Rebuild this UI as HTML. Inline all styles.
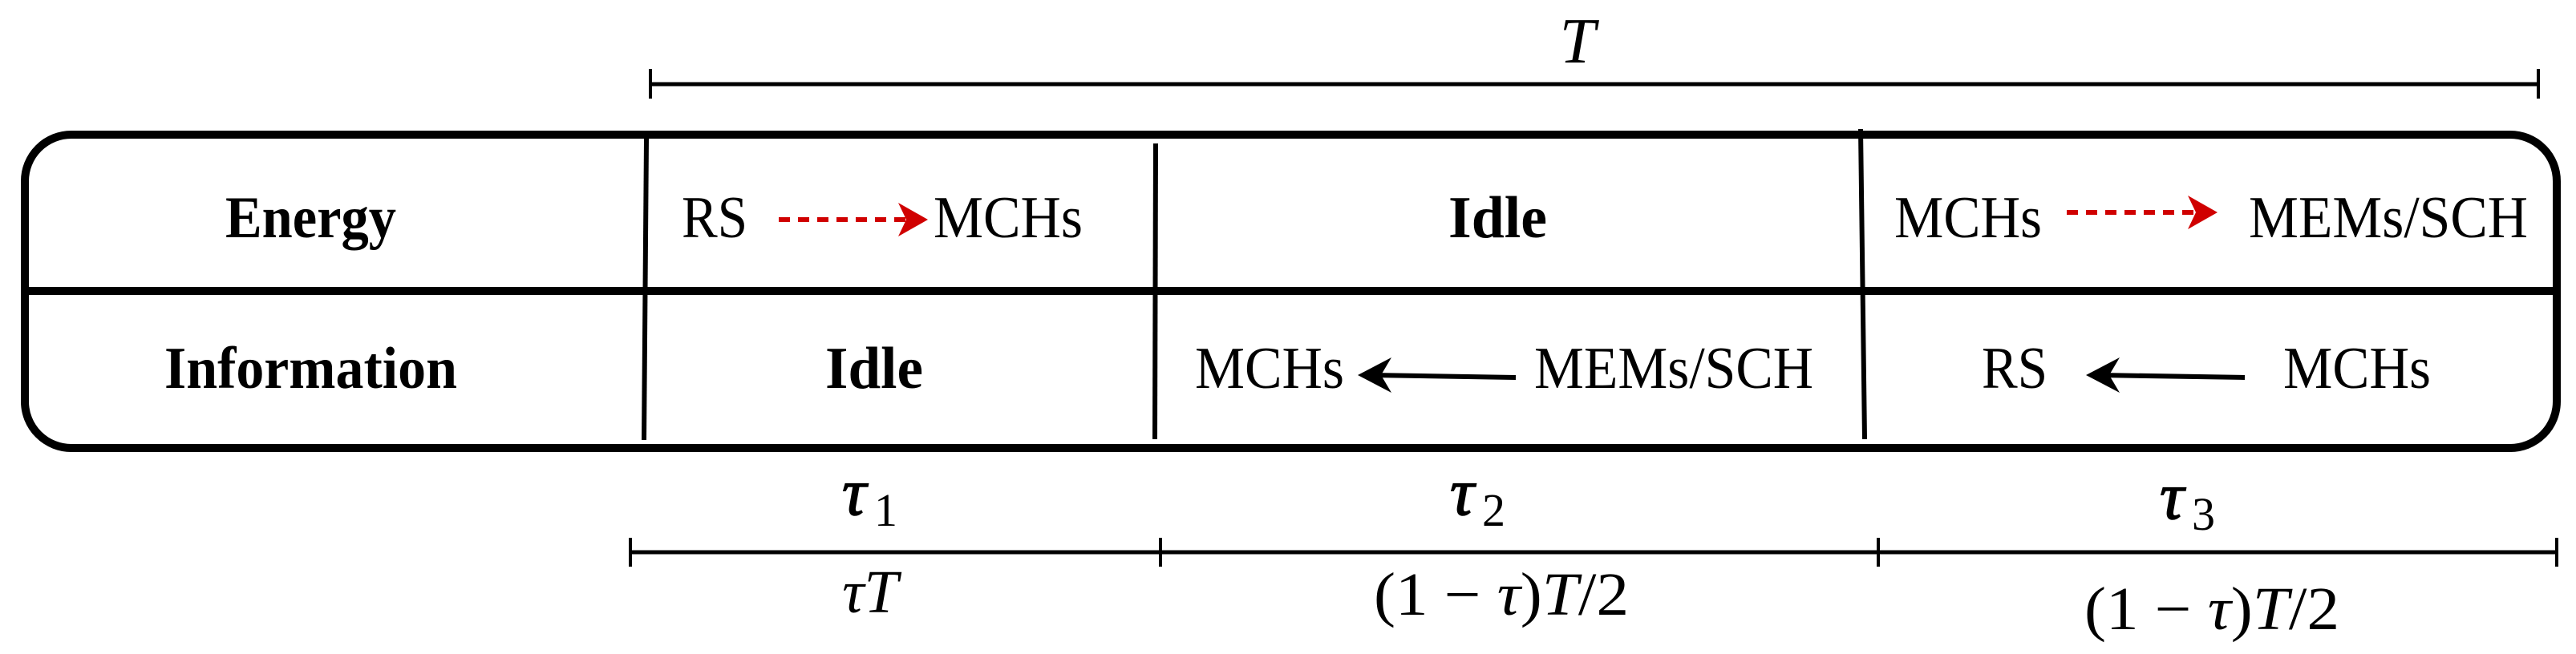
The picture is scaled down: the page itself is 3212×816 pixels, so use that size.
<!DOCTYPE html>
<html><head><meta charset="utf-8"><style>html,body{margin:0;padding:0;background:#fff}svg{display:block}</style></head>
<body>
<svg width="3212" height="816" viewBox="0 0 3212 816" xmlns="http://www.w3.org/2000/svg" font-family="Liberation Serif, serif">
<!-- top T bar -->
<line x1="811" y1="105" x2="3165" y2="105" stroke="#000" stroke-width="5"/>
<line x1="811" y1="86" x2="811" y2="123" stroke="#000" stroke-width="4"/>
<line x1="3165" y1="86" x2="3165" y2="123" stroke="#000" stroke-width="4"/>
<text x="1967" y="78" font-size="80" font-style="italic" text-anchor="middle">T</text>
<!-- main box -->
<rect x="31" y="168" width="3157" height="391" rx="58" ry="58" fill="none" stroke="#000" stroke-width="10"/>
<line x1="31" y1="363" x2="3188" y2="363" stroke="#000" stroke-width="10"/>
<line x1="806" y1="173" x2="803" y2="549" stroke="#000" stroke-width="6"/>
<line x1="1441" y1="179" x2="1440" y2="548" stroke="#000" stroke-width="6"/>
<line x1="2320" y1="161" x2="2325" y2="548" stroke="#000" stroke-width="6"/>
<!-- row labels -->
<g font-weight="bold" font-size="74">
<text x="281" y="296" textLength="213" lengthAdjust="spacingAndGlyphs">Energy</text>
<text x="205" y="484" textLength="365" lengthAdjust="spacingAndGlyphs">Information</text>
<text x="1029" y="484" textLength="122" lengthAdjust="spacingAndGlyphs">Idle</text>
<text x="1806" y="296" textLength="123" lengthAdjust="spacingAndGlyphs">Idle</text>
</g>
<g font-size="74">
<text x="850" y="296" textLength="82" lengthAdjust="spacingAndGlyphs">RS</text>
<text x="1164" y="296" textLength="186" lengthAdjust="spacingAndGlyphs">MCHs</text>
<text x="1490" y="484" textLength="186" lengthAdjust="spacingAndGlyphs">MCHs</text>
<text x="1913" y="484" textLength="348" lengthAdjust="spacingAndGlyphs">MEMs/SCH</text>
<text x="2362" y="296" textLength="184" lengthAdjust="spacingAndGlyphs">MCHs</text>
<text x="2804" y="296" textLength="348" lengthAdjust="spacingAndGlyphs">MEMs/SCH</text>
<text x="2471" y="484" textLength="82" lengthAdjust="spacingAndGlyphs">RS</text>
<text x="2847" y="484" textLength="184" lengthAdjust="spacingAndGlyphs">MCHs</text>
</g>
<!-- red dashed arrows -->
<line x1="971" y1="274" x2="1140" y2="274" stroke="#d00000" stroke-width="6" stroke-dasharray="14,10"/>
<polygon points="1157,274 1120,253 1130,274 1120,295" fill="#d00000"/>
<line x1="2577" y1="265" x2="2748" y2="265" stroke="#d00000" stroke-width="6" stroke-dasharray="14,10"/>
<polygon points="2765,265 2728,244 2738,265 2728,286" fill="#d00000"/>
<!-- black arrows -->
<line x1="1710" y1="468" x2="1890" y2="471" stroke="#000" stroke-width="6"/>
<polygon points="1693,468 1735,446 1722,468 1735,490" fill="#000"/>
<line x1="2618" y1="468" x2="2799" y2="471" stroke="#000" stroke-width="6"/>
<polygon points="2601,468 2643,446 2630,468 2643,490" fill="#000"/>
<!-- bottom bar -->
<line x1="786" y1="689" x2="3188" y2="689" stroke="#000" stroke-width="5"/>
<line x1="786" y1="671" x2="786" y2="707" stroke="#000" stroke-width="4"/>
<line x1="1447" y1="671" x2="1447" y2="707" stroke="#000" stroke-width="4"/>
<line x1="2342" y1="671" x2="2342" y2="707" stroke="#000" stroke-width="4"/>
<line x1="3188" y1="671" x2="3188" y2="707" stroke="#000" stroke-width="4"/>
<!-- taus -->
<g font-size="84">
<text x="1050" y="642" font-style="italic" stroke="#000" stroke-width="1.5">τ</text><text x="1090" y="656" font-size="58">1</text>
<text x="1808" y="642" font-style="italic" stroke="#000" stroke-width="1.5">τ</text><text x="1848" y="656" font-size="58">2</text>
<text x="2693" y="647" font-style="italic" stroke="#000" stroke-width="1.5">τ</text><text x="2733" y="661" font-size="58">3</text>
</g>
<g font-size="76">
<text x="1085" y="764" text-anchor="middle" font-style="italic">τT</text>
<text x="1713" y="767" textLength="318" lengthAdjust="spacingAndGlyphs">(1 − <tspan font-style="italic">τ</tspan>)<tspan font-style="italic">T</tspan>/2</text>
<text x="2599" y="785" textLength="318" lengthAdjust="spacingAndGlyphs">(1 − <tspan font-style="italic">τ</tspan>)<tspan font-style="italic">T</tspan>/2</text>
</g>
</svg>
</body></html>
